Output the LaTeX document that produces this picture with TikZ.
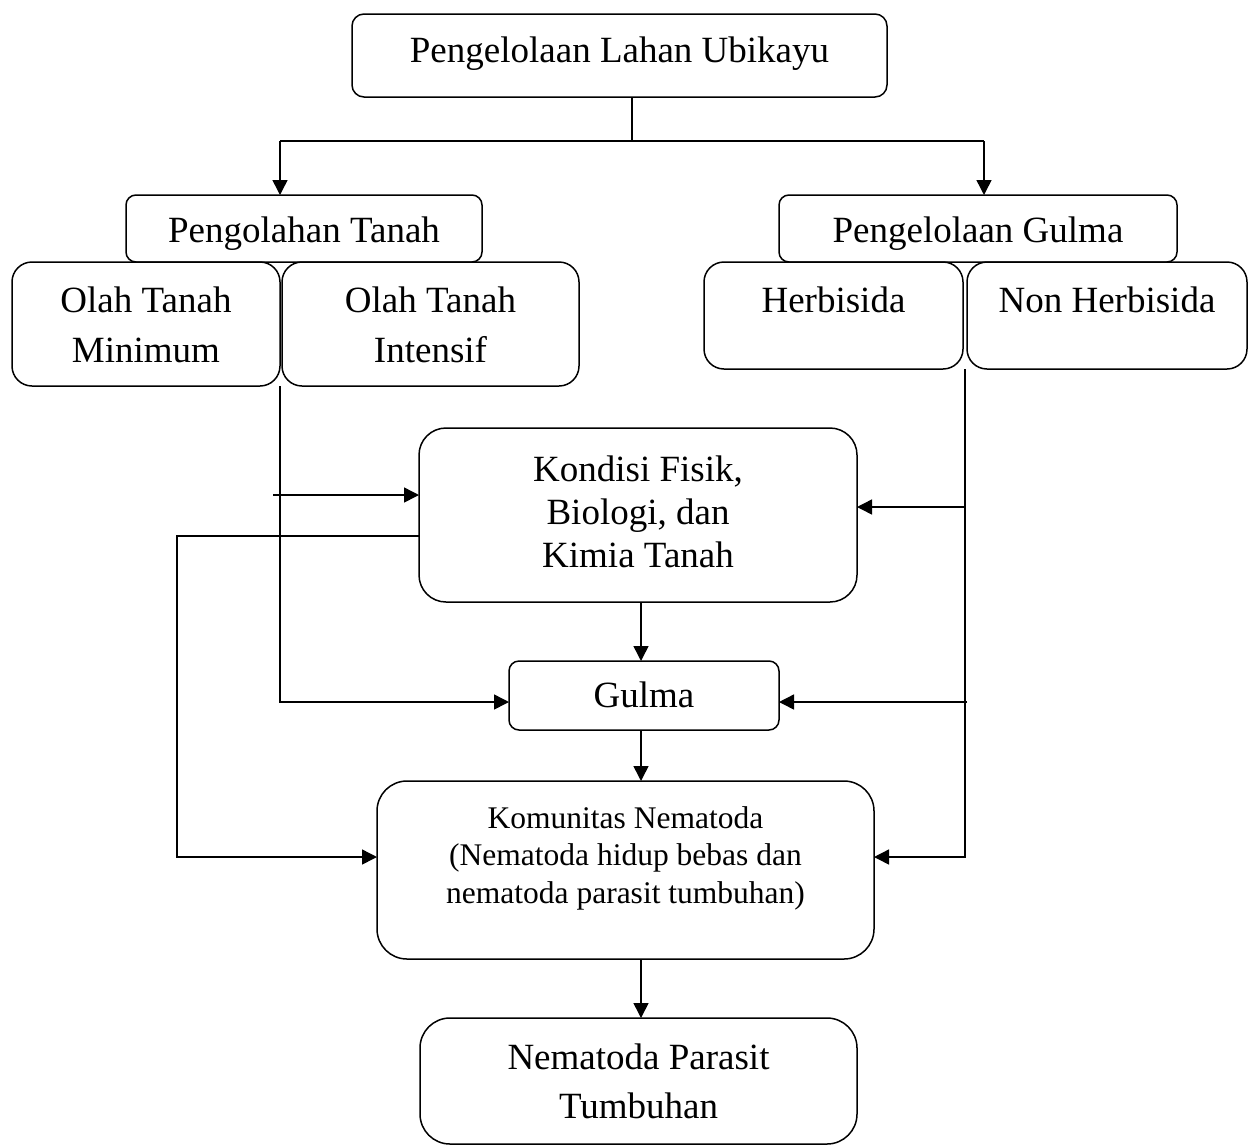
\documentclass[tikz,border=0pt]{standalone}
\usepackage{fontspec}
\setmainfont{Liberation Serif}
\usetikzlibrary{arrows.meta}
\begin{document}
\begin{tikzpicture}[x=1pt,y=-1pt,
  rbox/.style={draw, line width=1.5pt, rounded corners=#1, inner sep=0pt, outer sep=0pt},
  txt/.style={inner sep=0pt, anchor=base, font=\fontsize{37}{44}\selectfont},
  stxt/.style={inner sep=0pt, anchor=base, font=\fontsize{31.5}{38}\selectfont},
  conn/.style={line width=1.5pt},
  arr/.style={line width=1.5pt, -{Triangle[length=15pt,width=15pt]}}]
\useasboundingbox (0,0) rectangle (1249,1146);
% boxes
\node[rbox=12pt, minimum width=535pt, minimum height=83pt] (top) at (619.5,55.5) {};
\node[rbox=10pt, minimum width=356pt, minimum height=67pt] (pt) at (304,228.5) {};
\node[rbox=10pt, minimum width=398pt, minimum height=67pt] (pg) at (978,228.5) {};
\node[rbox=20pt, minimum width=268pt, minimum height=124pt] (otm) at (146,324) {};
\node[rbox=20pt, minimum width=297pt, minimum height=124pt] (oti) at (430.5,324) {};
\node[rbox=20pt, minimum width=259pt, minimum height=107pt] (herb) at (833.5,315.5) {};
\node[rbox=20pt, minimum width=280pt, minimum height=107pt] (nonh) at (1107,315.5) {};
\node[rbox=27pt, minimum width=438pt, minimum height=174pt] (kon) at (638,515) {};
\node[rbox=10pt, minimum width=270pt, minimum height=69pt] (gul) at (644,695.5) {};
\node[rbox=30pt, minimum width=497pt, minimum height=178pt] (kom) at (625.5,870) {};
\node[rbox=30pt, minimum width=437pt, minimum height=126pt] (nem) at (638.5,1081) {};
% texts
\node[txt] (top-t) at (619.5,62) {Pengelolaan Lahan Ubikayu};
\node[txt] (pt-t) at (304,242) {Pengolahan Tanah};
\node[txt] (pg-t) at (978,242) {Pengelolaan Gulma};
\node[txt] (otm-t1) at (146,312) {Olah Tanah};
\node[txt] (otm-t2) at (146,362) {Minimum};
\node[txt] (oti-t1) at (430.5,312) {Olah Tanah};
\node[txt] (oti-t2) at (430.5,362) {Intensif};
\node[txt] (herb-t) at (833.5,312) {Herbisida};
\node[txt] (nonh-t) at (1107,312) {Non Herbisida};
\node[txt] (kon-t1) at (638,481) {Kondisi Fisik,};
\node[txt] (kon-t2) at (638,524) {Biologi, dan};
\node[txt] (kon-t3) at (638,567) {Kimia Tanah};
\node[txt] (gul-t) at (644,707) {Gulma};
\node[stxt] (kom-t1) at (625.5,828) {Komunitas Nematoda};
\node[stxt] (kom-t2) at (625.5,865) {(Nematoda hidup bebas dan};
\node[stxt] (kom-t3) at (625.5,903) {nematoda parasit tumbuhan)};
\node[txt] (nem-t1) at (638.5,1069) {Nematoda Parasit};
\node[txt] (nem-t2) at (638.5,1118) {Tumbuhan};
% coordinates
\coordinate (jc) at (632,141);
\coordinate (jl) at (280,141);
\coordinate (jr) at (984,141);
\coordinate (cx) at (641,0);
\coordinate (gy) at (0,702);
\coordinate (ky) at (0,857);
\coordinate (s1) at (273,495);
\coordinate (k1) at (177,536);
\coordinate (rv) at (965,369);
\coordinate (r1) at (965,507);
\coordinate (r2) at (967,702);
% connectors
\draw[conn] (top.south -| jc) -- (jc);
\draw[conn] (jl) -- (jr);
\draw[arr] (jl) -- (pt.north -| jl);
\draw[arr] (jr) -- (pg.north -| jr);
\draw[arr] (otm.south east) |- (gul.west |- gy);
\draw[arr] (s1) -- (kon.west |- s1);
\draw[arr] (kon.west |- k1) -- (k1) |- (kom.west |- ky);
\draw[arr] (rv) |- (kom.east |- ky);
\draw[arr] (r1) -- (kon.east |- r1);
\draw[arr] (r2) -- (gul.east |- r2);
\draw[arr] (kon.south -| cx) -- (gul.north -| cx);
\draw[arr] (gul.south -| cx) -- (kom.north -| cx);
\draw[arr] (kom.south -| cx) -- (nem.north -| cx);
\end{tikzpicture}
\end{document}
